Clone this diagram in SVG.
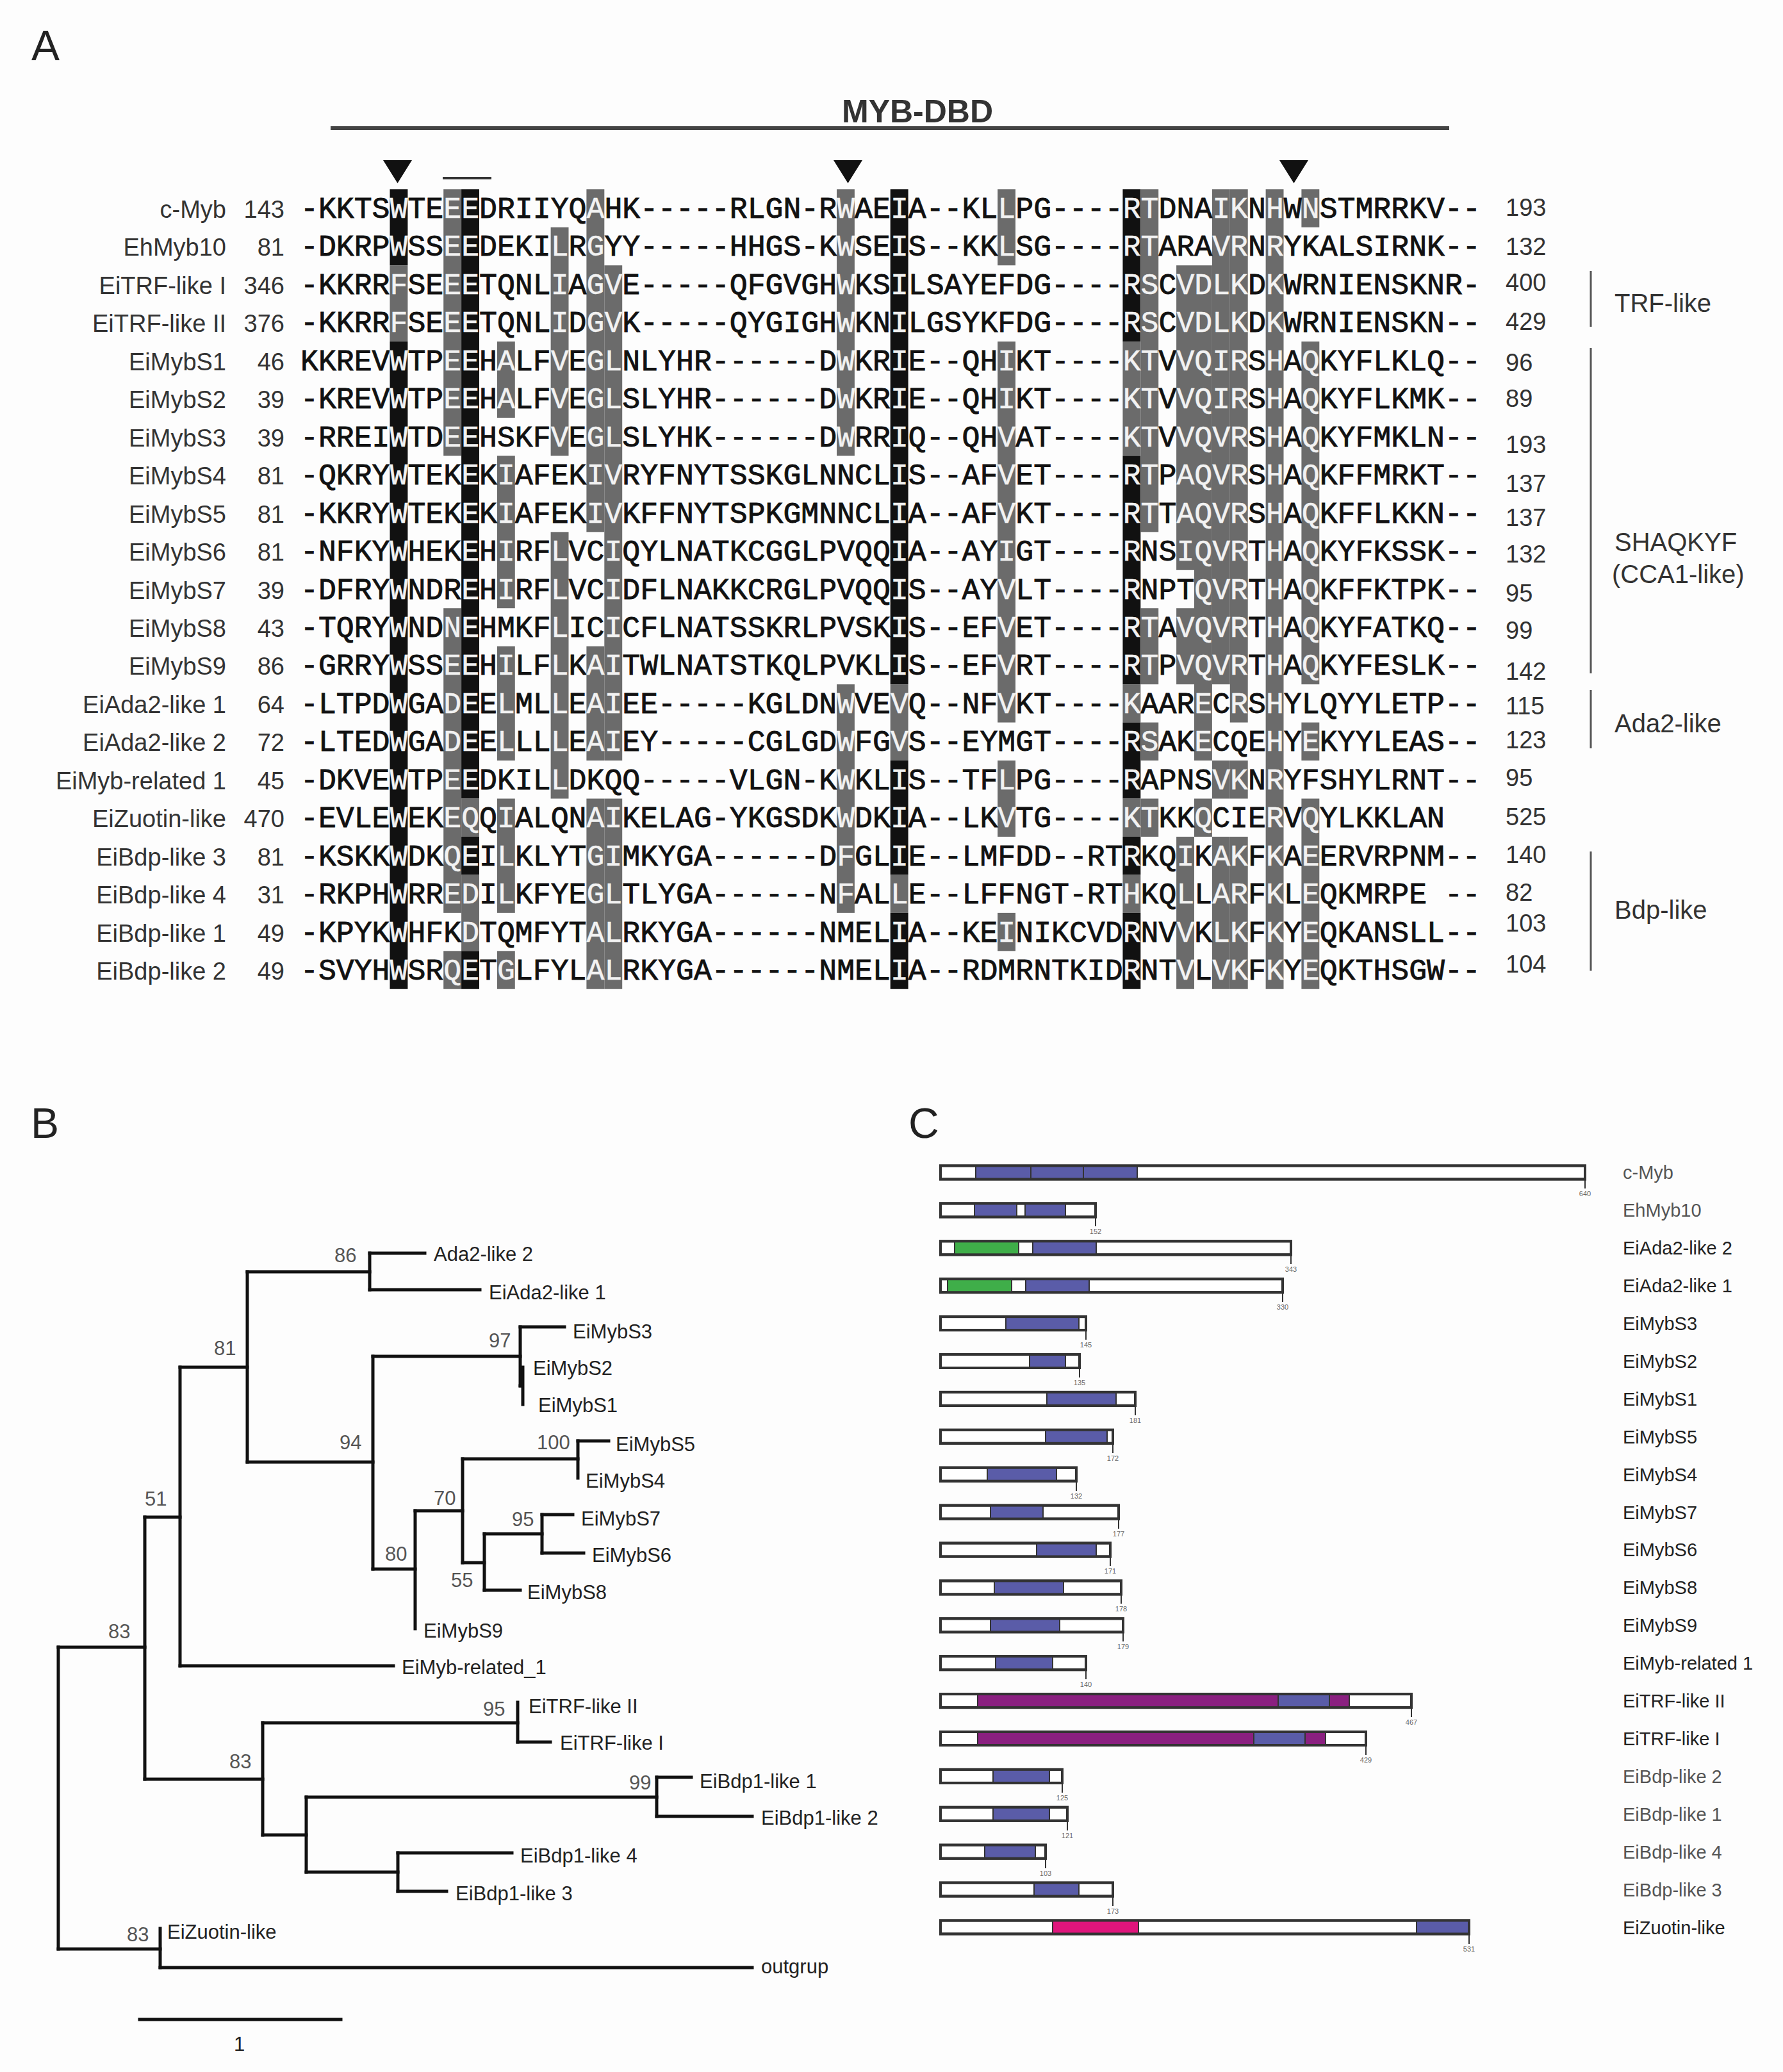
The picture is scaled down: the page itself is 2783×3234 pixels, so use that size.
<svg xmlns="http://www.w3.org/2000/svg" width="2783" height="3234" viewBox="0 0 2783 3234">
<style>
.seq{font-family:"Liberation Mono",monospace;font-size:46.5px;fill:#111;stroke:#111;stroke-width:0.9px;white-space:pre}
.w{fill:#f2f2f2;stroke:#f2f2f2;stroke-width:0.5px}
.k{fill:#111}
.g{fill:#6b6b6b}
.nm{font-family:"Liberation Sans",Arial,sans-serif;font-size:38px;fill:#333;text-anchor:end}
.rn{font-family:"Liberation Sans",Arial,sans-serif;font-size:38px;fill:#333}
.grp{font-family:"Liberation Sans",Arial,sans-serif;font-size:40px;fill:#333}
.br{stroke:#555;stroke-width:3}
.pl{font-family:"Liberation Sans",Arial,sans-serif;font-size:66px;fill:#222}
.tree{stroke:#111;stroke-width:5;fill:none;stroke-linecap:square}
.tl{font-family:"Liberation Sans",Arial,sans-serif;font-size:31px;fill:#222}
.bs{font-family:"Liberation Sans",Arial,sans-serif;font-size:31px;fill:#555}
.bar{fill:#fff;stroke:#333;stroke-width:4}
.dm{stroke:#333;stroke-width:2}
.blue{fill:#5a5ca8}
.green{fill:#3fae49}
.purple{fill:#8a2080}
.pink{fill:#e0157c}
.tick{stroke:#333;stroke-width:2}
.end{font-family:"Liberation Sans",Arial,sans-serif;font-size:11px;fill:#666;text-anchor:middle}
.cl{font-family:"Liberation Sans",Arial,sans-serif;font-size:29px;fill:#222}
.cg{fill:#555}
</style>
<rect x="0" y="0" width="2783" height="3234" fill="#fdfdfd"/>

<!-- Panel A -->
<g id="panelA">
<text class="pl" x="49" y="94">A</text>
<text x="1314" y="191" font-family="Liberation Sans, Arial, sans-serif" font-size="50" font-weight="bold" fill="#333">MYB-DBD</text>
<line x1="516" y1="200" x2="2262" y2="200" stroke="#444" stroke-width="6"/>
<polygon class="k" points="598,250 643,250 620.5,286"/>
<polygon class="k" points="1301,250 1346,250 1323.5,286"/>
<polygon class="k" points="1997,250 2042,250 2019.5,286"/>
<line x1="691" y1="278" x2="767" y2="278" stroke="#333" stroke-width="4"/>
</g>

<g id="shading">
<rect class="k" x="608.5" y="295.3" width="27.9" height="118.9"/>
<rect class="g" x="608.5" y="414.2" width="27.9" height="118.9"/>
<rect class="k" x="608.5" y="533.1" width="27.9" height="1010.65"/>
<rect class="g" x="692.2" y="295.3" width="27.9" height="416.15"/>
<rect class="g" x="692.2" y="949.25" width="27.9" height="475.6"/>
<rect class="g" x="692.2" y="1484.3" width="27.9" height="59.45"/>
<rect class="k" x="720.1" y="295.3" width="27.9" height="951.2"/>
<rect class="g" x="720.1" y="1246.5" width="27.9" height="59.45"/>
<rect class="k" x="720.1" y="1305.95" width="27.9" height="59.45"/>
<rect class="g" x="720.1" y="1365.4" width="27.9" height="118.9"/>
<rect class="k" x="720.1" y="1484.3" width="27.9" height="59.45"/>
<rect class="g" x="775.9" y="533.1" width="27.9" height="118.9"/>
<rect class="g" x="775.9" y="711.45" width="27.9" height="237.8"/>
<rect class="g" x="775.9" y="1008.7" width="27.9" height="178.35"/>
<rect class="g" x="775.9" y="1246.5" width="27.9" height="178.35"/>
<rect class="g" x="775.9" y="1484.3" width="27.9" height="59.45"/>
<rect class="g" x="859.6" y="354.75" width="27.9" height="356.7"/>
<rect class="g" x="859.6" y="830.35" width="27.9" height="416.15"/>
<rect class="g" x="915.4" y="295.3" width="27.9" height="535.05"/>
<rect class="g" x="915.4" y="1008.7" width="27.9" height="178.35"/>
<rect class="g" x="915.4" y="1246.5" width="27.9" height="297.25"/>
<rect class="g" x="943.3" y="414.2" width="27.9" height="772.85"/>
<rect class="g" x="943.3" y="1246.5" width="27.9" height="297.25"/>
<rect class="g" x="1306" y="295.3" width="27.9" height="416.15"/>
<rect class="g" x="1306" y="1068.15" width="27.9" height="356.7"/>
<rect class="k" x="1389.7" y="295.3" width="27.9" height="772.85"/>
<rect class="g" x="1389.7" y="1068.15" width="27.9" height="118.9"/>
<rect class="k" x="1389.7" y="1187.05" width="27.9" height="178.35"/>
<rect class="g" x="1389.7" y="1365.4" width="27.9" height="59.45"/>
<rect class="k" x="1389.7" y="1424.85" width="27.9" height="118.9"/>
<rect class="g" x="1557.1" y="295.3" width="27.9" height="118.9"/>
<rect class="g" x="1557.1" y="533.1" width="27.9" height="594.5"/>
<rect class="g" x="1557.1" y="1187.05" width="27.9" height="118.9"/>
<rect class="g" x="1557.1" y="1424.85" width="27.9" height="59.45"/>
<rect class="k" x="1752.4" y="295.3" width="27.9" height="237.8"/>
<rect class="g" x="1752.4" y="533.1" width="27.9" height="178.35"/>
<rect class="k" x="1752.4" y="711.45" width="27.9" height="356.7"/>
<rect class="g" x="1752.4" y="1068.15" width="27.9" height="59.45"/>
<rect class="k" x="1752.4" y="1127.6" width="27.9" height="118.9"/>
<rect class="g" x="1752.4" y="1246.5" width="27.9" height="59.45"/>
<rect class="k" x="1752.4" y="1305.95" width="27.9" height="59.45"/>
<rect class="g" x="1752.4" y="1365.4" width="27.9" height="59.45"/>
<rect class="k" x="1752.4" y="1424.85" width="27.9" height="118.9"/>
<rect class="g" x="1780.3" y="295.3" width="27.9" height="535.05"/>
<rect class="g" x="1780.3" y="949.25" width="27.9" height="118.9"/>
<rect class="g" x="1780.3" y="1127.6" width="27.9" height="59.45"/>
<rect class="g" x="1780.3" y="1246.5" width="27.9" height="59.45"/>
<rect class="g" x="1836.1" y="414.2" width="27.9" height="475.6"/>
<rect class="g" x="1836.1" y="949.25" width="27.9" height="118.9"/>
<rect class="g" x="1836.1" y="1305.95" width="27.9" height="237.8"/>
<rect class="g" x="1864" y="414.2" width="27.9" height="772.85"/>
<rect class="g" x="1864" y="1246.5" width="27.9" height="59.45"/>
<rect class="g" x="1891.9" y="295.3" width="27.9" height="772.85"/>
<rect class="g" x="1891.9" y="1187.05" width="27.9" height="59.45"/>
<rect class="g" x="1891.9" y="1305.95" width="27.9" height="237.8"/>
<rect class="g" x="1919.8" y="295.3" width="27.9" height="832.3"/>
<rect class="g" x="1919.8" y="1187.05" width="27.9" height="59.45"/>
<rect class="g" x="1919.8" y="1305.95" width="27.9" height="237.8"/>
<rect class="g" x="1975.6" y="295.3" width="27.9" height="1248.45"/>
<rect class="g" x="2031.4" y="295.3" width="27.9" height="59.45"/>
<rect class="g" x="2031.4" y="533.1" width="27.9" height="535.05"/>
<rect class="g" x="2031.4" y="1127.6" width="27.9" height="59.45"/>
<rect class="g" x="2031.4" y="1246.5" width="27.9" height="297.25"/>
</g>

<g id="row-cMyb"><text class="nm" x="353" y="340">c-Myb</text><text class="nm" x="444" y="340">143</text><text class="seq" x="469" y="340">-KKTS<tspan class="w">W</tspan>TE<tspan class="w">EE</tspan>DRIIYQ<tspan class="w">A</tspan>HK-----RLGN-R<tspan class="w">W</tspan>AE<tspan class="w">I</tspan>A--KL<tspan class="w">L</tspan>PG----<tspan class="w">RT</tspan>DNA<tspan class="w">IK</tspan>N<tspan class="w">H</tspan>W<tspan class="w">N</tspan>STMRRKV--</text><text class="rn" x="2350" y="337">193</text></g>
<g id="row-EhMyb10"><text class="nm" x="353" y="399.45">EhMyb10</text><text class="nm" x="444" y="399.45">81</text><text class="seq" x="469" y="399.45">-DKRP<tspan class="w">W</tspan>SS<tspan class="w">EE</tspan>DEKI<tspan class="w">L</tspan>R<tspan class="w">G</tspan>YY-----HHGS-K<tspan class="w">W</tspan>SE<tspan class="w">I</tspan>S--KK<tspan class="w">L</tspan>SG----<tspan class="w">RT</tspan>ARA<tspan class="w">VR</tspan>N<tspan class="w">R</tspan>YKALSIRNK--</text><text class="rn" x="2350" y="398">132</text></g>
<g id="row-EiTRF-likeI"><text class="nm" x="353" y="458.9">EiTRF-like I</text><text class="nm" x="444" y="458.9">346</text><text class="seq" x="469" y="458.9">-KKRR<tspan class="w">F</tspan>SE<tspan class="w">EE</tspan>TQNL<tspan class="w">I</tspan>A<tspan class="w">GV</tspan>E-----QFGVGH<tspan class="w">W</tspan>KS<tspan class="w">I</tspan>LSAYEFDG----<tspan class="w">RS</tspan>C<tspan class="w">VDLK</tspan>D<tspan class="w">K</tspan>WRNIENSKNR-</text><text class="rn" x="2350" y="454">400</text></g>
<g id="row-EiTRF-likeII"><text class="nm" x="353" y="518.35">EiTRF-like II</text><text class="nm" x="444" y="518.35">376</text><text class="seq" x="469" y="518.35">-KKRR<tspan class="w">F</tspan>SE<tspan class="w">EE</tspan>TQNL<tspan class="w">I</tspan>D<tspan class="w">GV</tspan>K-----QYGIGH<tspan class="w">W</tspan>KN<tspan class="w">I</tspan>LGSYKFDG----<tspan class="w">RS</tspan>C<tspan class="w">VDLK</tspan>D<tspan class="w">K</tspan>WRNIENSKN--</text><text class="rn" x="2350" y="515">429</text></g>
<g id="row-EiMybS1"><text class="nm" x="353" y="577.8">EiMybS1</text><text class="nm" x="444" y="577.8">46</text><text class="seq" x="469" y="577.8">KKREV<tspan class="w">W</tspan>TP<tspan class="w">EE</tspan>H<tspan class="w">A</tspan>LF<tspan class="w">V</tspan>E<tspan class="w">GL</tspan>NLYHR------D<tspan class="w">W</tspan>KR<tspan class="w">I</tspan>E--QH<tspan class="w">I</tspan>KT----<tspan class="w">KT</tspan>V<tspan class="w">VQIR</tspan>S<tspan class="w">H</tspan>A<tspan class="w">Q</tspan>KYFLKLQ--</text><text class="rn" x="2350" y="579">96</text></g>
<g id="row-EiMybS2"><text class="nm" x="353" y="637.25">EiMybS2</text><text class="nm" x="444" y="637.25">39</text><text class="seq" x="469" y="637.25">-KREV<tspan class="w">W</tspan>TP<tspan class="w">EE</tspan>H<tspan class="w">A</tspan>LF<tspan class="w">V</tspan>E<tspan class="w">GL</tspan>SLYHR------D<tspan class="w">W</tspan>KR<tspan class="w">I</tspan>E--QH<tspan class="w">I</tspan>KT----<tspan class="w">KT</tspan>V<tspan class="w">VQIR</tspan>S<tspan class="w">H</tspan>A<tspan class="w">Q</tspan>KYFLKMK--</text><text class="rn" x="2350" y="635">89</text></g>
<g id="row-EiMybS3"><text class="nm" x="353" y="696.7">EiMybS3</text><text class="nm" x="444" y="696.7">39</text><text class="seq" x="469" y="696.7">-RREI<tspan class="w">W</tspan>TD<tspan class="w">EE</tspan>HSKF<tspan class="w">V</tspan>E<tspan class="w">GL</tspan>SLYHK------D<tspan class="w">W</tspan>RR<tspan class="w">I</tspan>Q--QH<tspan class="w">V</tspan>AT----<tspan class="w">KT</tspan>V<tspan class="w">VQVR</tspan>S<tspan class="w">H</tspan>A<tspan class="w">Q</tspan>KYFMKLN--</text><text class="rn" x="2350" y="707">193</text></g>
<g id="row-EiMybS4"><text class="nm" x="353" y="756.15">EiMybS4</text><text class="nm" x="444" y="756.15">81</text><text class="seq" x="469" y="756.15">-QKRY<tspan class="w">W</tspan>TEK<tspan class="w">E</tspan>K<tspan class="w">I</tspan>AFEK<tspan class="w">IV</tspan>RYFNYTSSKGLNNCL<tspan class="w">I</tspan>S--AF<tspan class="w">V</tspan>ET----<tspan class="w">RT</tspan>P<tspan class="w">AQVR</tspan>S<tspan class="w">H</tspan>A<tspan class="w">Q</tspan>KFFMRKT--</text><text class="rn" x="2350" y="768">137</text></g>
<g id="row-EiMybS5"><text class="nm" x="353" y="815.6">EiMybS5</text><text class="nm" x="444" y="815.6">81</text><text class="seq" x="469" y="815.6">-KKRY<tspan class="w">W</tspan>TEK<tspan class="w">E</tspan>K<tspan class="w">I</tspan>AFEK<tspan class="w">IV</tspan>KFFNYTSPKGMNNCL<tspan class="w">I</tspan>A--AF<tspan class="w">V</tspan>KT----<tspan class="w">RT</tspan>T<tspan class="w">AQVR</tspan>S<tspan class="w">H</tspan>A<tspan class="w">Q</tspan>KFFLKKN--</text><text class="rn" x="2350" y="821">137</text></g>
<g id="row-EiMybS6"><text class="nm" x="353" y="875.05">EiMybS6</text><text class="nm" x="444" y="875.05">81</text><text class="seq" x="469" y="875.05">-NFKY<tspan class="w">W</tspan>HEK<tspan class="w">E</tspan>H<tspan class="w">I</tspan>RF<tspan class="w">L</tspan>VC<tspan class="w">I</tspan>QYLNATKCGGLPVQQ<tspan class="w">I</tspan>A--AY<tspan class="w">I</tspan>GT----<tspan class="w">R</tspan>NS<tspan class="w">IQVR</tspan>T<tspan class="w">H</tspan>A<tspan class="w">Q</tspan>KYFKSSK--</text><text class="rn" x="2350" y="878">132</text></g>
<g id="row-EiMybS7"><text class="nm" x="353" y="934.5">EiMybS7</text><text class="nm" x="444" y="934.5">39</text><text class="seq" x="469" y="934.5">-DFRY<tspan class="w">W</tspan>NDR<tspan class="w">E</tspan>H<tspan class="w">I</tspan>RF<tspan class="w">L</tspan>VC<tspan class="w">I</tspan>DFLNAKKCRGLPVQQ<tspan class="w">I</tspan>S--AY<tspan class="w">V</tspan>LT----<tspan class="w">R</tspan>NPT<tspan class="w">QVR</tspan>T<tspan class="w">H</tspan>A<tspan class="w">Q</tspan>KFFKTPK--</text><text class="rn" x="2350" y="939">95</text></g>
<g id="row-EiMybS8"><text class="nm" x="353" y="993.95">EiMybS8</text><text class="nm" x="444" y="993.95">43</text><text class="seq" x="469" y="993.95">-TQRY<tspan class="w">W</tspan>ND<tspan class="w">NE</tspan>HMKF<tspan class="w">L</tspan>IC<tspan class="w">I</tspan>CFLNATSSKRLPVSK<tspan class="w">I</tspan>S--EF<tspan class="w">V</tspan>ET----<tspan class="w">RT</tspan>A<tspan class="w">VQVR</tspan>T<tspan class="w">H</tspan>A<tspan class="w">Q</tspan>KYFATKQ--</text><text class="rn" x="2350" y="997">99</text></g>
<g id="row-EiMybS9"><text class="nm" x="353" y="1053.4">EiMybS9</text><text class="nm" x="444" y="1053.4">86</text><text class="seq" x="469" y="1053.4">-GRRY<tspan class="w">W</tspan>SS<tspan class="w">EE</tspan>H<tspan class="w">I</tspan>LF<tspan class="w">L</tspan>K<tspan class="w">AI</tspan>TWLNATSTKQLPVKL<tspan class="w">I</tspan>S--EF<tspan class="w">V</tspan>RT----<tspan class="w">RT</tspan>P<tspan class="w">VQVR</tspan>T<tspan class="w">H</tspan>A<tspan class="w">Q</tspan>KYFESLK--</text><text class="rn" x="2350" y="1061">142</text></g>
<g id="row-EiAda2-like1"><text class="nm" x="353" y="1112.85">EiAda2-like 1</text><text class="nm" x="444" y="1112.85">64</text><text class="seq" x="469" y="1112.85">-LTPD<tspan class="w">W</tspan>GA<tspan class="w">DE</tspan>E<tspan class="w">L</tspan>ML<tspan class="w">L</tspan>E<tspan class="w">AI</tspan>EE-----KGLDN<tspan class="w">W</tspan>VE<tspan class="w">V</tspan>Q--NF<tspan class="w">V</tspan>KT----<tspan class="w">K</tspan>AAR<tspan class="w">E</tspan>C<tspan class="w">R</tspan>S<tspan class="w">H</tspan>YLQYYLETP--</text><text class="rn" x="2350" y="1115">115</text></g>
<g id="row-EiAda2-like2"><text class="nm" x="353" y="1172.3">EiAda2-like 2</text><text class="nm" x="444" y="1172.3">72</text><text class="seq" x="469" y="1172.3">-LTED<tspan class="w">W</tspan>GA<tspan class="w">DE</tspan>E<tspan class="w">L</tspan>LL<tspan class="w">L</tspan>E<tspan class="w">AI</tspan>EY-----CGLGD<tspan class="w">W</tspan>FG<tspan class="w">V</tspan>S--EYMGT----<tspan class="w">RS</tspan>AK<tspan class="w">E</tspan>CQE<tspan class="w">H</tspan>Y<tspan class="w">E</tspan>KYYLEAS--</text><text class="rn" x="2350" y="1168">123</text></g>
<g id="row-EiMyb-related1"><text class="nm" x="353" y="1231.75">EiMyb-related 1</text><text class="nm" x="444" y="1231.75">45</text><text class="seq" x="469" y="1231.75">-DKVE<tspan class="w">W</tspan>TP<tspan class="w">EE</tspan>DKIL<tspan class="w">L</tspan>DKQQ-----VLGN-K<tspan class="w">W</tspan>KL<tspan class="w">I</tspan>S--TF<tspan class="w">L</tspan>PG----<tspan class="w">R</tspan>APNS<tspan class="w">VK</tspan>N<tspan class="w">R</tspan>YFSHYLRNT--</text><text class="rn" x="2350" y="1227">95</text></g>
<g id="row-EiZuotin-like"><text class="nm" x="353" y="1291.2">EiZuotin-like</text><text class="nm" x="444" y="1291.2">470</text><text class="seq" x="469" y="1291.2">-EVLE<tspan class="w">W</tspan>EK<tspan class="w">EQ</tspan>Q<tspan class="w">I</tspan>ALQN<tspan class="w">AI</tspan>KELAG-YKGSDK<tspan class="w">W</tspan>DK<tspan class="w">I</tspan>A--LK<tspan class="w">V</tspan>TG----<tspan class="w">KT</tspan>KK<tspan class="w">Q</tspan>CIE<tspan class="w">R</tspan>V<tspan class="w">Q</tspan>YLKKLAN</text><text class="rn" x="2350" y="1288">525</text></g>
<g id="row-EiBdp-like3"><text class="nm" x="353" y="1350.65" fill="#222">EiBdp-like 3</text><text class="nm" x="444" y="1350.65">81</text><text class="seq" x="469" y="1350.65">-KSKK<tspan class="w">W</tspan>DK<tspan class="w">QE</tspan>I<tspan class="w">L</tspan>KLYT<tspan class="w">GI</tspan>MKYGA------D<tspan class="w">F</tspan>GL<tspan class="w">I</tspan>E--LMFDD--RT<tspan class="w">R</tspan>KQ<tspan class="w">I</tspan>K<tspan class="w">AK</tspan>F<tspan class="w">K</tspan>A<tspan class="w">E</tspan>ERVRPNM--</text><text class="rn" x="2350" y="1347">140</text></g>
<g id="row-EiBdp-like4"><text class="nm" x="353" y="1410.1">EiBdp-like 4</text><text class="nm" x="444" y="1410.1">31</text><text class="seq" x="469" y="1410.1">-RKPH<tspan class="w">W</tspan>RR<tspan class="w">ED</tspan>I<tspan class="w">L</tspan>KFYE<tspan class="w">GL</tspan>TLYGA------N<tspan class="w">F</tspan>AL<tspan class="w">L</tspan>E--LFFNGT-RT<tspan class="w">H</tspan>KQ<tspan class="w">L</tspan>L<tspan class="w">AR</tspan>F<tspan class="w">K</tspan>L<tspan class="w">E</tspan>QKMRPE --</text><text class="rn" x="2350" y="1406">82</text></g>
<g id="row-EiBdp-like1"><text class="nm" x="353" y="1469.55">EiBdp-like 1</text><text class="nm" x="444" y="1469.55">49</text><text class="seq" x="469" y="1469.55">-KPYK<tspan class="w">W</tspan>HFK<tspan class="w">D</tspan>TQMFYT<tspan class="w">AL</tspan>RKYGA------NMEL<tspan class="w">I</tspan>A--KE<tspan class="w">I</tspan>NIKCVD<tspan class="w">R</tspan>NV<tspan class="w">V</tspan>K<tspan class="w">LK</tspan>F<tspan class="w">K</tspan>Y<tspan class="w">E</tspan>QKANSLL--</text><text class="rn" x="2350" y="1454">103</text></g>
<g id="row-EiBdp-like2"><text class="nm" x="353" y="1529">EiBdp-like 2</text><text class="nm" x="444" y="1529">49</text><text class="seq" x="469" y="1529">-SVYH<tspan class="w">W</tspan>SR<tspan class="w">QE</tspan>T<tspan class="w">G</tspan>LFYL<tspan class="w">AL</tspan>RKYGA------NMEL<tspan class="w">I</tspan>A--RDMRNTKID<tspan class="w">R</tspan>NT<tspan class="w">V</tspan>L<tspan class="w">VK</tspan>F<tspan class="w">K</tspan>Y<tspan class="w">E</tspan>QKTHSGW--</text><text class="rn" x="2350" y="1518">104</text></g>

<g id="groups">
<line class="br" x1="2483" y1="423" x2="2483" y2="510"/>
<text class="grp" x="2520" y="487">TRF-like</text>
<line class="br" x1="2483" y1="543" x2="2483" y2="1051"/>
<text class="grp" x="2520" y="860">SHAQKYF</text>
<text class="grp" x="2516" y="910">(CCA1-like)</text>
<line class="br" x1="2483" y1="1077" x2="2483" y2="1168"/>
<text class="grp" x="2520" y="1143">Ada2-like</text>
<line class="br" x1="2483" y1="1329" x2="2483" y2="1515"/>
<text class="grp" x="2520" y="1434">Bdp-like</text>
</g>

<!-- Panel B -->
<text class="pl" x="48" y="1776">B</text>
<g id="tree-connectors" class="tree">
<path d="M91,2571V3042"/>
<path d="M91,2571H226"/>
<path d="M91,3042H250"/>
<path d="M226,2368V2777"/>
<path d="M226,2368H281"/>
<path d="M226,2777H410"/>
<path d="M281,2134V2600"/>
<path d="M281,2134H386"/>
<path d="M281,2600H614"/>
<path d="M386,1985V2282"/>
<path d="M386,1985H577"/>
<path d="M386,2282H582"/>
<path d="M577,1956V2013"/>
<path d="M577,1956H663"/>
<path d="M577,2013H749"/>
<path d="M582,2117V2449"/>
<path d="M582,2117H812"/>
<path d="M582,2449H648"/>
<path d="M812,2071V2163"/>
<path d="M812,2071H881"/>
<path d="M812,2163H815"/>
<path d="M816,2134V2192"/>
<path d="M648,2358V2542"/>
<path d="M648,2358H722"/>
<path d="M722,2277V2439"/>
<path d="M722,2277H902"/>
<path d="M722,2439H756"/>
<path d="M902,2249V2307"/>
<path d="M902,2249H950"/>
<path d="M756,2394V2482"/>
<path d="M756,2394H846"/>
<path d="M756,2482H812"/>
<path d="M846,2364V2424"/>
<path d="M846,2364H894"/>
<path d="M846,2424H911"/>
<path d="M410,2689V2864"/>
<path d="M410,2689H808"/>
<path d="M410,2864H478"/>
<path d="M808,2657V2719"/>
<path d="M808,2719H859"/>
<path d="M478,2805V2922"/>
<path d="M478,2805H1025"/>
<path d="M478,2922H621"/>
<path d="M1025,2774V2835"/>
<path d="M1025,2774H1079"/>
<path d="M1025,2835H1174"/>
<path d="M621,2892V2952"/>
<path d="M621,2892H799"/>
<path d="M621,2952H697"/>
<path d="M250,3010V3071"/>
<path d="M250,3071H1174"/>
<path d="M218,3152H532"/>
</g>
<g id="tree-labels">
<text class="tl" x="677" y="1968">Ada2-like 2</text>
<text class="tl" x="763" y="2028">EiAda2-like 1</text>
<text class="tl" x="894" y="2089">EiMybS3</text>
<text class="tl" x="832" y="2146">EiMybS2</text>
<text class="tl" x="840" y="2204">EiMybS1</text>
<text class="tl" x="961" y="2265">EiMybS5</text>
<text class="tl" x="914" y="2322">EiMybS4</text>
<text class="tl" x="907" y="2381">EiMybS7</text>
<text class="tl" x="924" y="2438">EiMybS6</text>
<text class="tl" x="823" y="2496">EiMybS8</text>
<text class="tl" x="661" y="2556">EiMybS9</text>
<text class="tl" x="627" y="2613">EiMyb-related_1</text>
<text class="tl" x="825" y="2674">EiTRF-like II</text>
<text class="tl" x="874" y="2731">EiTRF-like I</text>
<text class="tl" x="1092" y="2791">EiBdp1-like 1</text>
<text class="tl" x="1188" y="2848">EiBdp1-like 2</text>
<text class="tl" x="812" y="2907">EiBdp1-like 4</text>
<text class="tl" x="711" y="2966">EiBdp1-like 3</text>
<text class="tl" x="261" y="3026">EiZuotin-like</text>
<text class="tl" x="1188" y="3080">outgrup</text>
<text class="tl" x="365" y="3201">1</text>
<text class="bs" x="522" y="1970">86</text>
<text class="bs" x="334" y="2115">81</text>
<text class="bs" x="763" y="2103">97</text>
<text class="bs" x="530" y="2262">94</text>
<text class="bs" x="838" y="2262">100</text>
<text class="bs" x="677" y="2349">70</text>
<text class="bs" x="226" y="2350">51</text>
<text class="bs" x="799" y="2382">95</text>
<text class="bs" x="601" y="2436">80</text>
<text class="bs" x="704" y="2477">55</text>
<text class="bs" x="169" y="2557">83</text>
<text class="bs" x="754" y="2678">95</text>
<text class="bs" x="358" y="2760">83</text>
<text class="bs" x="982" y="2793">99</text>
<text class="bs" x="198" y="3030">83</text>
</g>

<!-- Panel C -->
<text class="pl" x="1418" y="1776">C</text>
<g id="c-cMyb"><rect class="bar" x="1468" y="1819.5" width="1006" height="21"/><rect class="blue dm" x="1523" y="1819.5" width="86" height="21"/><rect class="blue dm" x="1609" y="1819.5" width="82" height="21"/><rect class="blue dm" x="1691" y="1819.5" width="84" height="21"/><rect x="1468" y="1819.5" width="1006" height="21" fill="none" stroke="#333" stroke-width="4"/><line class="tick" x1="2474" y1="1840" x2="2474" y2="1855"/><text class="end" x="2474" y="1867">640</text><text class="cl cg" x="2533" y="1840">c-Myb</text></g>
<g id="c-EhMyb10"><rect class="bar" x="1468" y="1878.4" width="242" height="21"/><rect class="blue dm" x="1521" y="1878.4" width="66" height="21"/><rect class="blue dm" x="1600" y="1878.4" width="63" height="21"/><rect x="1468" y="1878.4" width="242" height="21" fill="none" stroke="#333" stroke-width="4"/><line class="tick" x1="1710" y1="1899" x2="1710" y2="1914"/><text class="end" x="1710" y="1926">152</text><text class="cl cg" x="2533" y="1899">EhMyb10</text></g>
<g id="c-EiAda2-like2"><rect class="bar" x="1468" y="1937.3" width="547" height="21"/><rect class="green dm" x="1490" y="1937.3" width="100" height="21"/><rect class="blue dm" x="1612" y="1937.3" width="99" height="21"/><rect x="1468" y="1937.3" width="547" height="21" fill="none" stroke="#333" stroke-width="4"/><line class="tick" x1="2015" y1="1958" x2="2015" y2="1973"/><text class="end" x="2015" y="1985">343</text><text class="cl" x="2533" y="1958">EiAda2-like 2</text></g>
<g id="c-EiAda2-like1"><rect class="bar" x="1468" y="1996.2" width="534" height="21"/><rect class="green dm" x="1479" y="1996.2" width="100" height="21"/><rect class="blue dm" x="1601" y="1996.2" width="99" height="21"/><rect x="1468" y="1996.2" width="534" height="21" fill="none" stroke="#333" stroke-width="4"/><line class="tick" x1="2002" y1="2017" x2="2002" y2="2032"/><text class="end" x="2002" y="2044">330</text><text class="cl" x="2533" y="2017">EiAda2-like 1</text></g>
<g id="c-EiMybS3"><rect class="bar" x="1468" y="2055.1" width="227" height="21"/><rect class="blue dm" x="1570" y="2055.1" width="114" height="21"/><rect x="1468" y="2055.1" width="227" height="21" fill="none" stroke="#333" stroke-width="4"/><line class="tick" x1="1695" y1="2076" x2="1695" y2="2091"/><text class="end" x="1695" y="2103">145</text><text class="cl" x="2533" y="2076">EiMybS3</text></g>
<g id="c-EiMybS2"><rect class="bar" x="1468" y="2114" width="217" height="21"/><rect class="blue dm" x="1607" y="2114" width="56" height="21"/><rect x="1468" y="2114" width="217" height="21" fill="none" stroke="#333" stroke-width="4"/><line class="tick" x1="1685" y1="2135" x2="1685" y2="2150"/><text class="end" x="1685" y="2162">135</text><text class="cl" x="2533" y="2135">EiMybS2</text></g>
<g id="c-EiMybS1"><rect class="bar" x="1468" y="2172.9" width="304" height="21"/><rect class="blue dm" x="1634" y="2172.9" width="108" height="21"/><rect x="1468" y="2172.9" width="304" height="21" fill="none" stroke="#333" stroke-width="4"/><line class="tick" x1="1772" y1="2194" x2="1772" y2="2209"/><text class="end" x="1772" y="2221">181</text><text class="cl" x="2533" y="2194">EiMybS1</text></g>
<g id="c-EiMybS5"><rect class="bar" x="1468" y="2231.8" width="269" height="21"/><rect class="blue dm" x="1632" y="2231.8" width="96" height="21"/><rect x="1468" y="2231.8" width="269" height="21" fill="none" stroke="#333" stroke-width="4"/><line class="tick" x1="1737" y1="2253" x2="1737" y2="2268"/><text class="end" x="1737" y="2280">172</text><text class="cl" x="2533" y="2253">EiMybS5</text></g>
<g id="c-EiMybS4"><rect class="bar" x="1468" y="2290.7" width="212" height="21"/><rect class="blue dm" x="1541" y="2290.7" width="108" height="21"/><rect x="1468" y="2290.7" width="212" height="21" fill="none" stroke="#333" stroke-width="4"/><line class="tick" x1="1680" y1="2312" x2="1680" y2="2327"/><text class="end" x="1680" y="2339">132</text><text class="cl" x="2533" y="2312">EiMybS4</text></g>
<g id="c-EiMybS7"><rect class="bar" x="1468" y="2349.6" width="278" height="21"/><rect class="blue dm" x="1546" y="2349.6" width="82" height="21"/><rect x="1468" y="2349.6" width="278" height="21" fill="none" stroke="#333" stroke-width="4"/><line class="tick" x1="1746" y1="2371" x2="1746" y2="2386"/><text class="end" x="1746" y="2398">177</text><text class="cl" x="2533" y="2371">EiMybS7</text></g>
<g id="c-EiMybS6"><rect class="bar" x="1468" y="2408.5" width="265" height="21"/><rect class="blue dm" x="1618" y="2408.5" width="93" height="21"/><rect x="1468" y="2408.5" width="265" height="21" fill="none" stroke="#333" stroke-width="4"/><line class="tick" x1="1733" y1="2429" x2="1733" y2="2444"/><text class="end" x="1733" y="2456">171</text><text class="cl" x="2533" y="2429">EiMybS6</text></g>
<g id="c-EiMybS8"><rect class="bar" x="1468" y="2467.4" width="282" height="21"/><rect class="blue dm" x="1552" y="2467.4" width="108" height="21"/><rect x="1468" y="2467.4" width="282" height="21" fill="none" stroke="#333" stroke-width="4"/><line class="tick" x1="1750" y1="2488" x2="1750" y2="2503"/><text class="end" x="1750" y="2515">178</text><text class="cl" x="2533" y="2488">EiMybS8</text></g>
<g id="c-EiMybS9"><rect class="bar" x="1468" y="2526.3" width="285" height="21"/><rect class="blue dm" x="1546" y="2526.3" width="108" height="21"/><rect x="1468" y="2526.3" width="285" height="21" fill="none" stroke="#333" stroke-width="4"/><line class="tick" x1="1753" y1="2547" x2="1753" y2="2562"/><text class="end" x="1753" y="2574">179</text><text class="cl" x="2533" y="2547">EiMybS9</text></g>
<g id="c-EiMyb-related1"><rect class="bar" x="1468" y="2585.2" width="227" height="21"/><rect class="blue dm" x="1554" y="2585.2" width="89" height="21"/><rect x="1468" y="2585.2" width="227" height="21" fill="none" stroke="#333" stroke-width="4"/><line class="tick" x1="1695" y1="2606" x2="1695" y2="2621"/><text class="end" x="1695" y="2633">140</text><text class="cl" x="2533" y="2606">EiMyb-related 1</text></g>
<g id="c-EiTRF-likeII"><rect class="bar" x="1468" y="2644.1" width="735" height="21"/><rect class="purple dm" x="1526" y="2644.1" width="469" height="21"/><rect class="blue dm" x="1995" y="2644.1" width="80" height="21"/><rect class="purple dm" x="2075" y="2644.1" width="31" height="21"/><rect x="1468" y="2644.1" width="735" height="21" fill="none" stroke="#333" stroke-width="4"/><line class="tick" x1="2203" y1="2665" x2="2203" y2="2680"/><text class="end" x="2203" y="2692">467</text><text class="cl" x="2533" y="2665">EiTRF-like II</text></g>
<g id="c-EiTRF-likeI"><rect class="bar" x="1468" y="2703" width="664" height="21"/><rect class="purple dm" x="1526" y="2703" width="431" height="21"/><rect class="blue dm" x="1957" y="2703" width="80" height="21"/><rect class="purple dm" x="2037" y="2703" width="32" height="21"/><rect x="1468" y="2703" width="664" height="21" fill="none" stroke="#333" stroke-width="4"/><line class="tick" x1="2132" y1="2724" x2="2132" y2="2739"/><text class="end" x="2132" y="2751">429</text><text class="cl" x="2533" y="2724">EiTRF-like I</text></g>
<g id="c-EiBdp-like2"><rect class="bar" x="1468" y="2761.9" width="190" height="21"/><rect class="blue dm" x="1550" y="2761.9" width="88" height="21"/><rect x="1468" y="2761.9" width="190" height="21" fill="none" stroke="#333" stroke-width="4"/><line class="tick" x1="1658" y1="2783" x2="1658" y2="2798"/><text class="end" x="1658" y="2810">125</text><text class="cl cg" x="2533" y="2783">EiBdp-like 2</text></g>
<g id="c-EiBdp-like1"><rect class="bar" x="1468" y="2820.8" width="198" height="21"/><rect class="blue dm" x="1550" y="2820.8" width="88" height="21"/><rect x="1468" y="2820.8" width="198" height="21" fill="none" stroke="#333" stroke-width="4"/><line class="tick" x1="1666" y1="2842" x2="1666" y2="2857"/><text class="end" x="1666" y="2869">121</text><text class="cl cg" x="2533" y="2842">EiBdp-like 1</text></g>
<g id="c-EiBdp-like4"><rect class="bar" x="1468" y="2879.7" width="164" height="21"/><rect class="blue dm" x="1537" y="2879.7" width="79" height="21"/><rect x="1468" y="2879.7" width="164" height="21" fill="none" stroke="#333" stroke-width="4"/><line class="tick" x1="1632" y1="2901" x2="1632" y2="2916"/><text class="end" x="1632" y="2928">103</text><text class="cl cg" x="2533" y="2901">EiBdp-like 4</text></g>
<g id="c-EiBdp-like3"><rect class="bar" x="1468" y="2938.6" width="269" height="21"/><rect class="blue dm" x="1614" y="2938.6" width="70" height="21"/><rect x="1468" y="2938.6" width="269" height="21" fill="none" stroke="#333" stroke-width="4"/><line class="tick" x1="1737" y1="2960" x2="1737" y2="2975"/><text class="end" x="1737" y="2987">173</text><text class="cl cg" x="2533" y="2960">EiBdp-like 3</text></g>
<g id="c-EiZuotin-like"><rect class="bar" x="1468" y="2997.5" width="825" height="21"/><rect class="pink dm" x="1643" y="2997.5" width="134" height="21"/><rect class="blue dm" x="2211" y="2997.5" width="82" height="21"/><rect x="1468" y="2997.5" width="825" height="21" fill="none" stroke="#333" stroke-width="4"/><line class="tick" x1="2293" y1="3019" x2="2293" y2="3034"/><text class="end" x="2293" y="3046">531</text><text class="cl" x="2533" y="3019">EiZuotin-like</text></g>
</svg>
